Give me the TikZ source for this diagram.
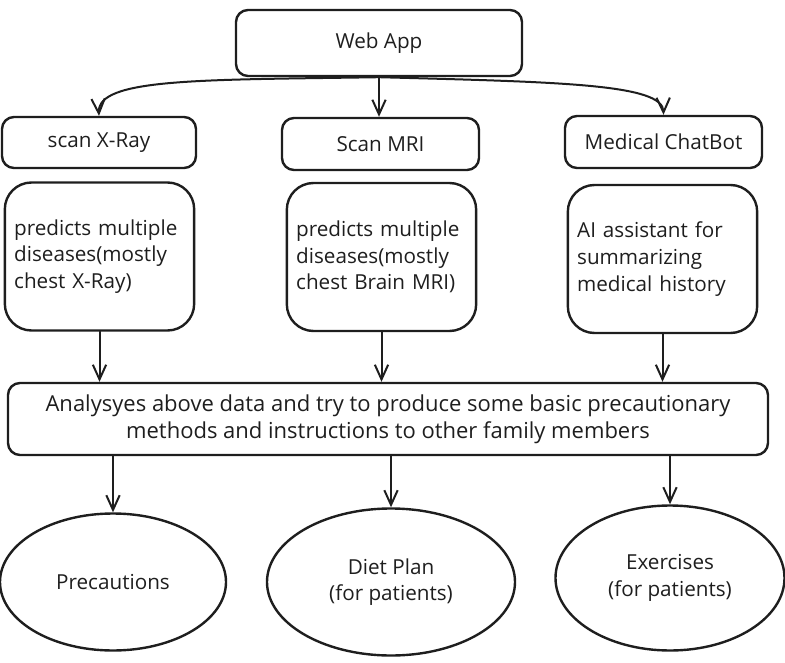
\documentclass[tikz,border=0pt]{standalone}
\usepackage{fontspec}
\setmainfont{Open Sans}
\usepackage{tikz}
\usetikzlibrary{arrows.meta}
\usetikzlibrary{shapes.geometric}
\definecolor{ink}{RGB}{30,30,30}

\begin{document}
\begin{tikzpicture}[x=0.75pt,y=-0.75pt,line cap=round,line join=round,>={Straight Barb[length=11pt,width=10pt]},
    box/.style={draw=ink,line width=1.8pt,rounded corners=9pt,inner sep=0pt,align=center,text=ink},
    tallbox/.style={box,rounded corners=20pt,minimum width=141.75pt,minimum height=111pt,text width=128pt,inner xsep=7pt,align=left},
    oval/.style={draw=ink,line width=1.8pt,ellipse,inner sep=0pt,align=center,text=ink},
    conn/.style={->,draw=ink,line width=1.5pt}]
      \useasboundingbox (0,0) rectangle (785,663);
      \fontsize{15.5}{20}\selectfont
      % top row
      \node[box,minimum width=214.5pt,minimum height=49.5pt] (webapp) at (379,43) {Web App};
      \node[box,minimum width=145.5pt,minimum height=38.25pt] (xray) at (99,142.5) {scan X-Ray};
      \node[box,minimum width=147.75pt,minimum height=39pt] (mri) at (380.5,144) {Scan MRI};
      \node[box,minimum width=147.75pt,minimum height=39pt] (chat) at (663.5,142) {Medical ChatBot};
      % descriptions
      \node[tallbox] (xraytxt) at (99.5,256.5) {predicts multiple diseases(mostly chest X-Ray)\\[14pt]};
      \node[tallbox] (mritxt) at (381.5,257) {predicts multiple diseases(mostly chest Brain MRI)\\[14pt]};
      \node[tallbox] (chattxt) at (662.5,259) {AI assistant for summarizing medical history\\[14pt]};
      \node[box,minimum width=570pt,minimum height=54pt,font=\fontsize{16.5}{20}\selectfont] (analyse) at (388,419)
        {Analysyes above data and try to produce some basic precautionary\\ methods and instructions to other family members};
      % outcomes
      \node[oval,minimum width=169.5pt,minimum height=102.75pt] (precau) at (113,582) {Precautions};
      \node[oval,minimum width=186pt,minimum height=110.25pt] (diet) at (391,582) {Diet Plan\\(for patients)};
      \node[oval,minimum width=171.75pt,minimum height=108.75pt] (exer) at (670,578) {Exercises\\(for patients)};
      % connectors
      \draw[conn] (webapp.south) -- (webapp.south |- mri.north);
      \draw[conn] (webapp.south) .. controls (200,80) and (97,78) .. (xray.north);
      \draw[conn] (webapp.south) .. controls (560,82) and (663,84) .. (chat.north);
      \draw[conn] (xraytxt.south) -- (xraytxt.south |- analyse.north);
      \draw[conn] (mritxt.south) -- (mritxt.south |- analyse.north);
      \draw[conn] (chattxt.south) -- (chattxt.south |- analyse.north);
      \draw[conn] (precau.north |- analyse.south) -- (precau.north);
      \draw[conn] (diet.north |- analyse.south) -- (diet.north);
      \draw[conn] (exer.north |- analyse.south) -- (exer.north);
\end{tikzpicture}
\end{document}
